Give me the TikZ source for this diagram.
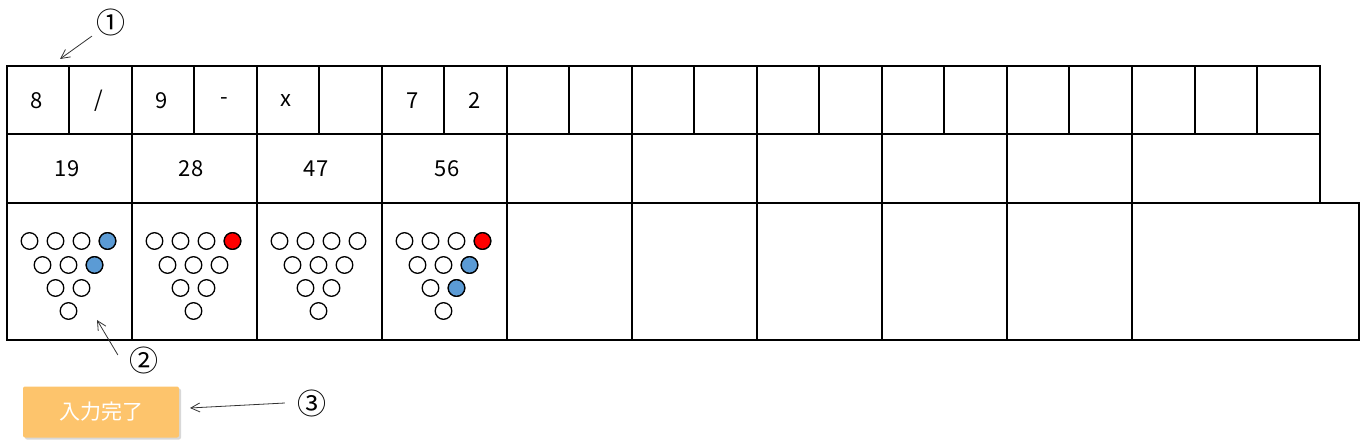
\documentclass[tikz,border=0pt]{standalone}
\usepackage{fontspec}
\setmainfont{Noto Sans CJK JP}
\usetikzlibrary{arrows.meta, shadows}

\definecolor{pinblue}{HTML}{5B9BD5}
\definecolor{pinred}{HTML}{FF0000}
\definecolor{btnorange}{HTML}{FDC46C}

\begin{document}
\begin{tikzpicture}[x=1pt, y=-1pt, line width=1.2pt,
		score/.style={font=\fontsize{22}{22}\selectfont},
		pin/.style={draw, fill=white, line width=1.3pt},
		note/.style={inner sep=2pt, font=\fontsize{29}{29}\selectfont},
		pointer/.style={-{Straight Barb[length=9pt, width=9pt]}, line width=0.8pt, draw=black!80},
		btn/.style={fill=btnorange, rounded corners=2pt, minimum width=156pt, minimum height=51pt,
			text=white, font=\fontsize{21}{21}\selectfont,
			drop shadow={shadow xshift=2pt, shadow yshift=-2pt, fill=black!30}}]
			\useasboundingbox (0,0) rectangle (1371,446);
			
			\def\ya{66};
			\def\yb{134};
			\def\yc{203};
			\def\yd{340};
			
			% score sheet
			\draw (7,\ya) rectangle (1320,\yc);
			\draw (7,\yb) -- (1320,\yb);
			\draw (7,\yc) rectangle (1359,\yd);
			\foreach \x in {132,257,...,1132}
				\draw (\x,\ya) -- (\x,\yd);
			\foreach \x in {69,194,...,1069}
				\draw (\x,\ya) -- (\x,\yb);
			\draw (1195,\ya) -- (1195,\yb);
			\draw (1257,\ya) -- (1257,\yb);
			
			% throws
			\node [score] (t11) at (37,101) {8};
			\node [score] (t12) at (99,101) {/};
			\node [score] (t21) at (162,101) {9};
			\node [score] (t22) at (224,101) {-};
			\node [score] (t31) at (286,101) {x};
			\node [score] (t41) at (413,101) {7};
			\node [score] (t42) at (475,101) {2};
			
			% totals
			\node [score] (s1) at (67,169) {19};
			\node [score] (s2) at (191,169) {28};
			\node [score] (s3) at (316,169) {47};
			\node [score] (s4) at (447,169) {56};
			
			% pins
			\foreach \cx in {68.5,193.5,318.5,443.5} {
				\foreach \dx in {-39,-13,13,39}
					\draw [pin] (\cx+\dx,241) circle [radius=8.3pt];
				\foreach \dx in {-26,0,26}
					\draw [pin] (\cx+\dx,265) circle [radius=8.3pt];
				\foreach \dx in {-13,13}
					\draw [pin] (\cx+\dx,288) circle [radius=8.3pt];
				\draw [pin] (\cx,311) circle [radius=8.3pt];
			}
			\draw [pin, fill=pinblue] (107.5,241) circle [radius=8.3pt];
			\draw [pin, fill=pinblue] (94.5,265) circle [radius=8.3pt];
			\draw [pin, fill=pinred] (232.5,241) circle [radius=8.3pt];
			\draw [pin, fill=pinred] (482.5,241) circle [radius=8.3pt];
			\draw [pin, fill=pinblue] (469.5,265) circle [radius=8.3pt];
			\draw [pin, fill=pinblue] (456.5,288) circle [radius=8.3pt];
			
			% button
			\node [btn] (done) at (101,412) {入力完了};
			
			% notes
			\node [note] (n1) at (111,22) {①};
			\node [note] (n2) at (144,360) {②};
			\node [note] (n3) at (312,403) {③};
			
			\coordinate (p1) at (60,59);
			\coordinate (p2) at (97,320);
			\coordinate (p3) at (190,408);
			
			\draw [pointer] ([xshift=-2pt, yshift=2pt]n1.south west) -- (p1);
			\draw [pointer] ([xshift=-9pt, yshift=5pt]n2.west) -- (p2);
			\draw [pointer] ([xshift=-10pt]n3.west) -- (p3);
		\end{tikzpicture}
\end{document}
